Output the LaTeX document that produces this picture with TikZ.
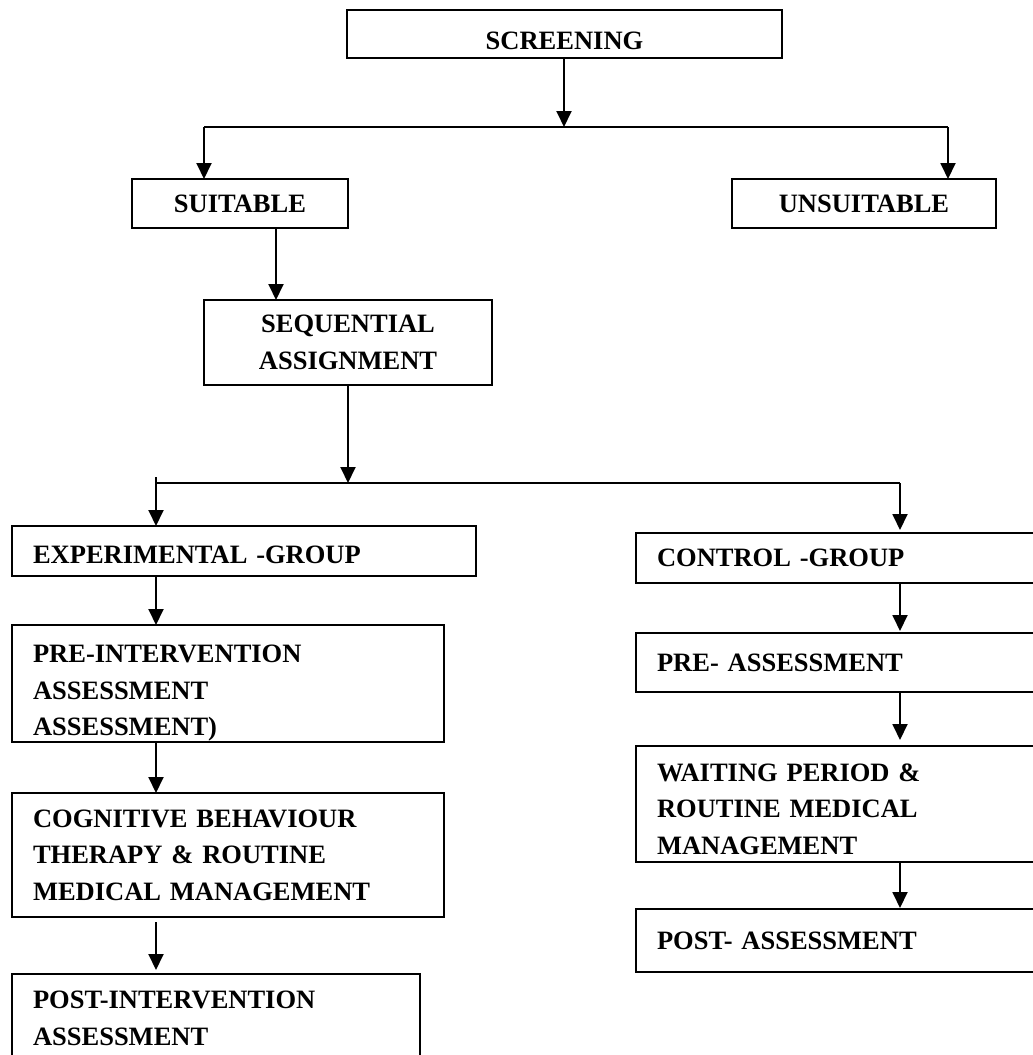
\documentclass[tikz,border=0pt]{standalone}
\usepackage{fontspec}
\setmainfont{Liberation Serif}
\usepackage{tikz}
\usetikzlibrary{arrows.meta,positioning}

\begin{document}
\begin{tikzpicture}[x=1pt, y=-1pt, line width=1.9pt,
		>={Triangle[length=16pt,width=15pt]},
		blk/.style={draw, rectangle, anchor=north west, outer sep=0pt, inner xsep=21pt, inner ysep=0pt, align=left, font=\fontsize{26.5}{36.5}\selectfont\bfseries},
		cblk/.style={blk, align=center}]
		\useasboundingbox (0,0) rectangle (1033,1055);
		\clip (0,0) rectangle (1033,1055);

		\node[cblk, text width=393pt, minimum height=48pt] (screen) at (347,10) {\rule{0pt}{31pt}SCREENING};
		\node[cblk, text width=174pt, minimum height=49pt] (suit) at (132,179) {SUITABLE};
		\node[cblk, text width=222pt, minimum height=49pt] (unsuit) at (732,179) {UNSUITABLE};
		\node[cblk, text width=246pt, minimum height=85pt] (seq) at (204,300) {SEQUENTIAL\\ASSIGNMENT};

		\node[blk, text width=422pt, minimum height=50pt] (exp) at (12,526) {\rule{0pt}{26pt}EXPERIMENTAL -GROUP};
		\node[blk, text width=390pt, minimum height=117pt] (preint) at (12,625) {\rule{0pt}{37pt}PRE-INTERVENTION\\ASSESSMENT\\ASSESSMENT)};
		\node[blk, text width=390pt, minimum height=124pt] (cbt) at (12,793) {COGNITIVE BEHAVIOUR\\THERAPY \& ROUTINE\\MEDICAL MANAGEMENT};
		\node[blk, text width=366pt, minimum height=89pt] (postint) at (12,974) {POST-INTERVENTION\\ASSESSMENT};

		\node[blk, text width=378pt, minimum height=50pt] (ctrl) at (636,533) {CONTROL -GROUP};
		\node[blk, text width=378pt, minimum height=59pt] (preas) at (636,633) {PRE- ASSESSMENT};
		\node[blk, text width=378pt, minimum height=116pt] (wait) at (636,746) {\rule{0pt}{28pt}WAITING PERIOD \&\\ROUTINE MEDICAL\\MANAGEMENT};
		\node[blk, text width=378pt, minimum height=63pt] (postas) at (636,909) {POST- ASSESSMENT};

		\coordinate (j1) at (564,127);
		\coordinate (j1l) at (204,127);
		\coordinate (j1r) at (948,127);
		\coordinate (j2) at (348,483);
		\coordinate (j2l) at (156,483);
		\coordinate (j2r) at (900,483);

		\draw[->] (j1 |- screen.south) -- (j1);
		\draw (j1l) -- (j1r);
		\draw[->] (j1l) -- (j1l |- suit.north);
		\draw[->] (j1r) -- (j1r |- unsuit.north);
		\draw[->] ([xshift=36pt]suit.south) -- ([xshift=36pt]suit.south |- seq.north);

		\draw[->] (seq.south) -- (j2);
		\draw (j2l) -- (j2r);
		\draw[->, shorten <=-6pt] (j2l) -- (j2l |- exp.north);
		\draw[->, shorten >=3pt] (j2r) -- (j2r |- ctrl.north);

		\draw[->] (exp.south -| j2l) -- (preint.north -| j2l);
		\draw[->, shorten <=1pt] (preint.south -| j2l) -- (cbt.north -| j2l);
		\draw[->, shorten <=5pt, shorten >=4pt] (cbt.south -| j2l) -- (postint.north -| j2l);

		\draw[->, shorten >=2pt] (ctrl.south -| j2r) -- (preas.north -| j2r);
		\draw[->, shorten >=6pt] (preas.south -| j2r) -- (wait.north -| j2r);
		\draw[->, shorten >=1pt] (wait.south -| j2r) -- (postas.north -| j2r);
\end{tikzpicture}
\end{document}
